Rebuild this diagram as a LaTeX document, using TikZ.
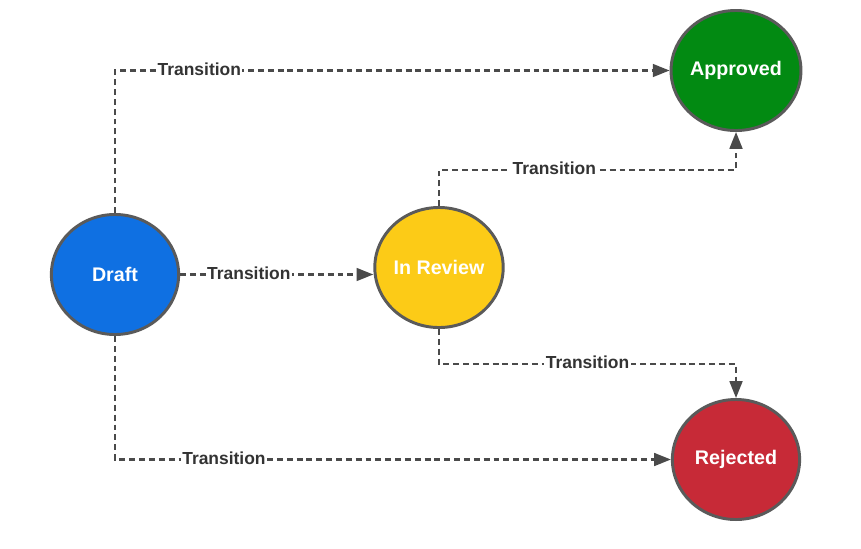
\documentclass[tikz,border=0pt]{standalone}
\usepackage{fontspec}
\setmainfont{Liberation Sans}
\usepackage{xcolor}
\usetikzlibrary{arrows.meta,positioning,calc,shapes.geometric}

\definecolor{draftblue}{HTML}{0F70E2}
\definecolor{reviewyellow}{HTML}{FCCB17}
\definecolor{approvedgreen}{HTML}{028A12}
\definecolor{rejectedred}{HTML}{C72A37}
\definecolor{rimgray}{HTML}{5A5A5A}
\definecolor{linegray}{HTML}{4A4A4A}
\definecolor{labelgray}{HTML}{333333}

\begin{document}
\begin{tikzpicture}[
    x=0.025cm, y=-0.025cm,
    state/.style={ellipse, draw=rimgray, line width=2.1pt,
                  minimum width=3.18cm, minimum height=3.0cm, inner sep=0pt,
                  text=white, font=\fontsize{14}{16}\selectfont\bfseries},
    arr/.style={-{Triangle[length=0.42cm, width=0.32cm]},
                draw=linegray, line width=1.6pt,
                dash pattern=on 4.2pt off 2.8pt},
    lbl/.style={fill=white, inner sep=1pt, yshift=1pt, text=labelgray,
                font=\fontsize{12.4}{14}\selectfont\bfseries},
]

\useasboundingbox (0,0) rectangle (861,548);

%% ─── States ──────────────────────────────────────────────────────────────────
\node[state, fill=draftblue]     (draft)    at (115,274.5) {Draft};
\node[state, fill=reviewyellow]  (review)   at (439,267.5) {In Review};
\node[state, fill=approvedgreen] (approved) at (736,70.5)  {Approved};
\node[state, fill=rejectedred]   (rejected) at (736,459.5) {Rejected};

%% ─── Transitions from Draft ─────────────────────────────────────────────────
\draw[arr] (draft.north) |- node[lbl, pos=0.576] {Transition} (approved.west);
\draw[arr] (draft) -- node[lbl, pos=0.356] {Transition} (draft -| review.west);
\draw[arr] (draft.south) |- node[lbl, pos=0.598] {Transition} (rejected.west);

%% ─── Transitions from In Review ─────────────────────────────────────────────
\draw[arr] (review.north) -- ++(0,-36)
    -| node[lbl, pos=0.194] {Transition} (approved.south);
\draw[arr] (review.south) -- ++(0,35)
    -| node[lbl, pos=0.25] {Transition} (rejected.north);

\end{tikzpicture}
\end{document}
